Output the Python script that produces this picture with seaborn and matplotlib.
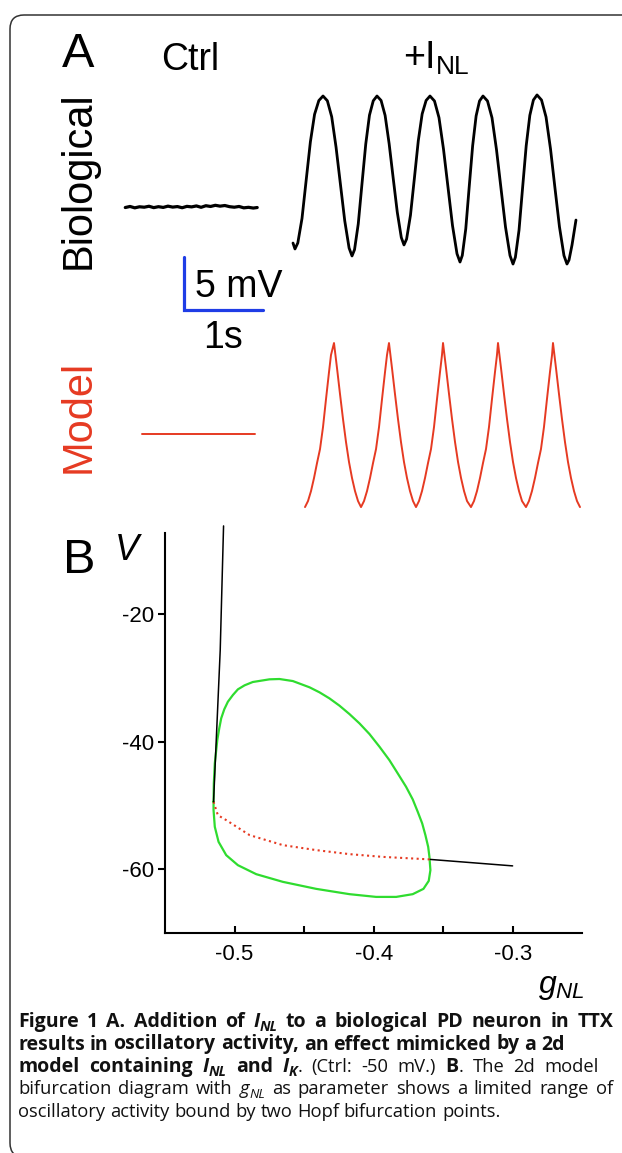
import re

import numpy as np
import pandas as pd

import matplotlib
import matplotlib.pyplot as plt
import seaborn as sns
from matplotlib.patches import FancyBboxPatch


W, H = 622, 1153

# ---- panel A: recordings (time in s, voltage in mV) ----
bio_ctrl_t = [0.32, 0.38, 0.44, 0.50, 0.56, 0.62, 0.68, 0.74, 0.80, 0.86, 0.92, 0.98, 1.04, 1.10, 1.16,
              1.22, 1.28, 1.34, 1.40, 1.46, 1.52, 1.58, 1.64, 1.70, 1.76, 1.82, 1.88, 1.94, 1.99]
bio_ctrl_v = [-50.05, -49.95, -50.08, -49.98, -50.02, -49.93, -50.06, -49.97, -50.04, -49.92, -50.01, -49.96,
              -50.07, -49.94, -49.99, -49.90, -50.03, -49.88, -49.95, -49.84, -49.92, -49.86, -49.97, -50.02,
              -49.95, -50.08, -50.03, -50.10, -50.05]

bio_t = [2.443, 2.468, 2.504, 2.557, 2.610, 2.663, 2.716, 2.770, 2.823,
         2.878, 2.933, 2.988, 3.043, 3.098, 3.153, 3.190,
         3.222, 3.269, 3.316, 3.364, 3.411, 3.459, 3.506,
         3.558, 3.609, 3.660, 3.711, 3.763, 3.814, 3.848,
         3.881, 3.930, 3.980, 4.029, 4.078, 4.128, 4.177,
         4.234, 4.291, 4.348, 4.405, 4.462, 4.519, 4.557,
         4.586, 4.630, 4.673, 4.717, 4.761, 4.804, 4.848,
         4.905, 4.962, 5.019, 5.076, 5.133, 5.190, 5.228,
         5.258, 5.304, 5.349, 5.395, 5.441, 5.486, 5.532,
         5.589, 5.646, 5.703, 5.759, 5.816, 5.873, 5.911,
         5.937, 5.975, 6.025]
bio_v = [-53.40, -53.96, -53.39, -51.08, -47.46, -43.86, -41.26, -39.96, -39.53,
         -39.98, -41.49, -44.36, -47.83, -51.30, -53.87, -54.62,
         -54.02, -51.60, -47.83, -44.06, -41.34, -39.98, -39.53,
         -39.95, -41.36, -44.03, -47.26, -50.49, -52.88, -53.58,
         -53.02, -50.77, -47.26, -43.75, -41.22, -39.95, -39.53,
         -40.00, -41.57, -44.54, -48.14, -51.75, -54.41, -55.19,
         -54.57, -52.06, -48.14, -44.23, -41.41, -40.00, -39.53,
         -40.00, -41.58, -44.60, -48.25, -51.89, -54.58, -55.38,
         -54.74, -52.19, -48.21, -44.22, -41.35, -39.91, -39.43,
         -39.91, -41.51, -44.54, -48.21, -51.87, -54.58, -55.38,
         -55.00, -53.58, -51.23]

model_ctrl_t = [0.532, 1.962]
model_ctrl_v = [-50.0, -50.0]

model_t = [2.595, 2.633, 2.671, 2.709, 2.747, 2.785, 2.823, 2.861, 2.899, 2.924,
           2.962, 3.000, 3.038, 3.076, 3.114, 3.152, 3.190, 3.228, 3.266,
           3.304, 3.342, 3.380, 3.418, 3.456, 3.494, 3.532, 3.570, 3.608, 3.633,
           3.658, 3.696, 3.734, 3.772, 3.810, 3.848, 3.886, 3.924, 3.962,
           4.000, 4.038, 4.076, 4.114, 4.152, 4.190, 4.228, 4.266, 4.304, 4.329,
           4.342, 4.380, 4.418, 4.456, 4.494, 4.532, 4.570, 4.608, 4.646,
           4.696, 4.734, 4.772, 4.810, 4.848, 4.886, 4.924, 4.962, 5.000, 5.025,
           5.038, 5.076, 5.114, 5.152, 5.190, 5.228, 5.266, 5.304, 5.342,
           5.392, 5.430, 5.468, 5.506, 5.544, 5.582, 5.620, 5.658, 5.696, 5.722,
           5.734, 5.772, 5.810, 5.848, 5.886, 5.924, 5.962, 6.000, 6.038,
           6.076]
model_v = [-56.89, -56.32, -55.38, -54.15, -52.74, -51.42, -49.34, -46.70, -44.15, -42.55,
           -41.42, -43.78, -46.23, -48.59, -50.76, -52.64, -54.15, -55.38, -56.32,
           -56.89, -56.32, -55.38, -54.15, -52.74, -51.42, -49.34, -46.70, -44.15, -42.55,
           -41.42, -43.78, -46.23, -48.59, -50.76, -52.64, -54.15, -55.38, -56.32,
           -56.89, -56.32, -55.38, -54.15, -52.74, -51.42, -49.34, -46.70, -44.15, -42.55,
           -41.42, -43.78, -46.23, -48.59, -50.76, -52.64, -54.15, -55.38, -56.32,
           -56.89, -56.32, -55.38, -54.15, -52.74, -51.42, -49.34, -46.70, -44.15, -42.55,
           -41.42, -43.78, -46.23, -48.59, -50.76, -52.64, -54.15, -55.38, -56.32,
           -56.89, -56.32, -55.38, -54.15, -52.74, -51.42, -49.34, -46.70, -44.15, -42.55,
           -41.42, -43.78, -46.23, -48.59, -50.76, -52.64, -54.15, -55.38, -56.32,
           -56.89]

# ---- panel B: bifurcation diagram (g_NL, V in mV) ----
eq_upper_g = [-0.5079, -0.5103, -0.5151]
eq_upper_v = [-6.19, -25.63, -49.40]
unstable_g = [-0.5151, -0.5120, -0.5060, -0.4892, -0.4653, -0.4413, -0.4174, -0.3935, -0.3592]
unstable_v = [-49.40, -51.50, -52.27, -54.62, -56.19, -56.97, -57.60, -58.03, -58.43]
eq_lower_g = [-0.3592, -0.3001]
eq_lower_v = [-58.43, -59.44]
cycle_g = [-0.5151, -0.5149, -0.5142, -0.5124, -0.5110, -0.5096, -0.5074, -0.5048, -0.5012, -0.4976,
           -0.4928, -0.4869, -0.4749, -0.4677, -0.4581, -0.4461, -0.4389, -0.4318, -0.4246, -0.4174,
           -0.4102, -0.4030, -0.3958, -0.3887, -0.3827, -0.3767, -0.3719, -0.3683, -0.3651, -0.3628,
           -0.3608, -0.3599, -0.3592, -0.3604, -0.3642, -0.3719, -0.3838, -0.3982, -0.4174, -0.4413,
           -0.4653, -0.4844, -0.4976, -0.5060, -0.5115, -0.5142, -0.5151, -0.5151]
cycle_v = [-49.40, -46.52, -43.39, -39.73, -37.90, -36.33, -34.92, -33.73, -32.68, -31.79,
           -31.16, -30.64, -30.22, -30.17, -30.49, -31.47, -32.26, -33.20, -34.34, -35.66,
           -37.12, -38.79, -40.78, -42.87, -44.95, -47.05, -49.03, -50.97, -52.79, -54.62,
           -56.46, -58.03, -60.11, -61.79, -63.04, -63.87, -64.30, -64.30, -63.87, -63.04,
           -61.94, -60.74, -59.33, -57.76, -55.67, -53.32, -50.70, -49.40]

xticks_b = [-0.5, -0.45, -0.4, -0.35, -0.3]
xticklabels_b = ["-0.5", "", "-0.4", "", "-0.3"]
yticks_b = [-20, -40, -60]
yticklabels_b = ["-20", "-40", "-60"]

RED = "#e63a22"
BLUE = "#1f3de6"
GREEN = "#2fdc2f"

sns.set_theme(style="white")
plt.rcParams['font.family'] = ['Liberation Sans', 'DejaVu Sans']
plt.rcParams['text.color'] = 'black'
plt.rcParams['mathtext.fontset'] = 'custom'
plt.rcParams['mathtext.rm'] = 'Liberation Sans'
plt.rcParams['mathtext.it'] = 'Liberation Sans:italic'


def fx(px):
    return px / W


def fy(py):
    return 1 - py / H


fig = plt.figure(figsize=(W / 100, H / 100), dpi=100)
fig.patch.set_facecolor("white")

# rounded frame around the figure
frame = FancyBboxPatch((10, -4), 700, H - 15 + 4, boxstyle="round,pad=0,rounding_size=14",
                       transform=None, fill=False, edgecolor="#333333", linewidth=1.1)
fig.add_artist(frame)

# ---- panel A ----
tmax = 500 / 79
ax_bio = fig.add_axes([fx(100), fy(320), 500 / W, 240 / H])
ax_bio.set_xlim(0, tmax)
ax_bio.set_ylim(-60.66, -38.02)
ax_bio.axis("off")

sns.lineplot(x=bio_ctrl_t, y=bio_ctrl_v, ax=ax_bio, color="black", lw=2.3, sort=False, estimator=None)
sns.lineplot(x=bio_t, y=bio_v, ax=ax_bio, color="black", lw=2.0, sort=False, estimator=None)

# scale bar: 1 s, 5 mV
sb_t, sb_v = 1.063, -59.72
ax_bio.plot([sb_t, sb_t, sb_t + 1.0], [sb_v + 5.0, sb_v, sb_v], color=BLUE, lw=2.3,
            solid_joinstyle="miter", clip_on=False)

ax_mod = fig.add_axes([fx(100), fy(525), 500 / W, 205 / H])
ax_mod.set_xlim(0, tmax)
ax_mod.set_ylim(-58.58, -39.25)
ax_mod.axis("off")

sns.lineplot(x=model_ctrl_t, y=model_ctrl_v, ax=ax_mod, color=RED, lw=1.4, sort=False, estimator=None)
sns.lineplot(x=model_t, y=model_v, ax=ax_mod, color=RED, lw=1.4, sort=False, estimator=None)

fig.text(fx(62), fy(67), "A", fontsize=35, va="baseline")
fig.text(fx(161), fy(70), "Ctrl", fontsize=27, va="baseline")
fig.text(fx(403), fy(68), "+I", fontsize=27, va="baseline")
fig.text(fx(436), fy(74), "NL", fontsize=19, va="baseline")
fig.text(fx(79), fy(180), "Biological", fontsize=30, rotation=90, ha="center", va="center")
fig.text(fx(79), fy(416), "Model", fontsize=30, rotation=90, ha="center", va="center", color=RED)
fig.text(fx(195), fy(297), "5 mV", fontsize=27, va="baseline")
fig.text(fx(223.5), fy(348), "1s", fontsize=27, va="baseline", ha="center")

# ---- panel B ----
ax_b = fig.add_axes([fx(165), fy(933.3), 417.3 / W, 400.3 / H])
ax_b.set_xlim(-0.55, -0.25)
ax_b.set_ylim(-70, -7.3)

sns.lineplot(x=cycle_g, y=cycle_v, ax=ax_b, color=GREEN, lw=1.6, sort=False, estimator=None)
sns.lineplot(x=unstable_g, y=unstable_v, ax=ax_b, color=RED, lw=1.5, linestyle=":", sort=False, estimator=None)
sns.lineplot(x=eq_upper_g, y=eq_upper_v, ax=ax_b, color="black", lw=1.1, sort=False, estimator=None,
             clip_on=False)
sns.lineplot(x=eq_lower_g, y=eq_lower_v, ax=ax_b, color="black", lw=1.1, sort=False, estimator=None)

for side in ["top", "right"]:
    ax_b.spines[side].set_visible(False)
for side in ["left", "bottom"]:
    ax_b.spines[side].set_color("black")
    ax_b.spines[side].set_linewidth(1.5)

ax_b.set_xticks(xticks_b)
ax_b.set_xticklabels(xticklabels_b)
ax_b.set_yticks(yticks_b)
ax_b.set_yticklabels(yticklabels_b)
ax_b.tick_params(axis="x", bottom=True, direction="in", length=5, width=1.5, pad=8,
                 labelsize=16, colors="black")
ax_b.tick_params(axis="y", left=True, direction="out", length=5, width=1.5, pad=3,
                 labelsize=16, colors="black")
ax_b.set_xlabel("")
ax_b.set_ylabel("")

fig.text(fx(63), fy(573), "B", fontsize=35, va="baseline")
fig.text(fx(115), fy(560), "V", fontsize=26, va="baseline", style="italic")
fig.text(fx(585), fy(993), r"$g_{NL}$", fontsize=23, va="baseline", ha="right")

# ---- caption, drawn word by word (justified lines get wider word gaps) ----
renderer = fig.canvas.get_renderer()
SIZE_BOLD = 14.0
SIZE_REG = 13.2
FAM = ["Open Sans", "DejaVu Sans"]


def text_width(s, **kw):
    t = fig.text(0, 0, s, **kw)
    w = t.get_window_extent(renderer).width
    t.remove()
    return w


def tokens(segs):
    out = []
    for s, weight, style, sub in segs:
        size = SIZE_BOLD if weight == "bold" else SIZE_REG
        if sub:
            size *= 0.72
        kw = dict(fontsize=size, weight=weight, style=style, family=FAM, color="#111111")
        for p in re.split(r"( )", s):
            if p == "":
                continue
            if p == " ":
                w = text_width("x x", **kw) - text_width("xx", **kw)
            else:
                w = text_width(p, **kw)
            out.append((p, kw, sub, w))
    return out


def put_line(segs, x0, base, right=None):
    toks = tokens(segs)
    natural = sum(t[3] for t in toks)
    nsp = sum(1 for t in toks if t[0] == " ")
    extra = (right - x0 - natural) / nsp if (right and nsp) else 0
    extra = max(extra, 0)
    x = x0
    for p, kw, sub, w in toks:
        if p == " ":
            x += w + extra
            continue
        y = base + (4 if sub else 0)
        fig.text(fx(x), fy(y), p, va="baseline", **kw)
        x += w


B, N = "bold", "normal"
caption = [
    [("Figure 1 A. Addition of ", B, N, False), ("I", B, "italic", False), ("NL", B, "italic", True),
     (" to a biological PD neuron in TTX", B, N, False)],
    [("results in oscillatory activity, an effect mimicked by a 2d", B, N, False)],
    [("model containing ", B, N, False), ("I", B, "italic", False), ("NL", B, "italic", True),
     (" and ", B, N, False), ("I", B, "italic", False), ("K", B, "italic", True),
     (". (Ctrl: -50 mV.) ", N, N, False), ("B", B, N, False), (". The 2d model", N, N, False)],
    [("bifurcation diagram with ", N, N, False), ("g", N, "italic", False), ("NL", N, "italic", True),
     (" as parameter shows a limited range of", N, N, False)],
    [("oscillatory activity bound by two Hopf bifurcation points.", N, N, False)],
]
line_right = [613, None, 599, 613, None]
for i, line in enumerate(caption):
    put_line(line, 18, 1027 + i * 22.5, line_right[i])

plt.savefig("out.png", dpi=100)
plt.close()
